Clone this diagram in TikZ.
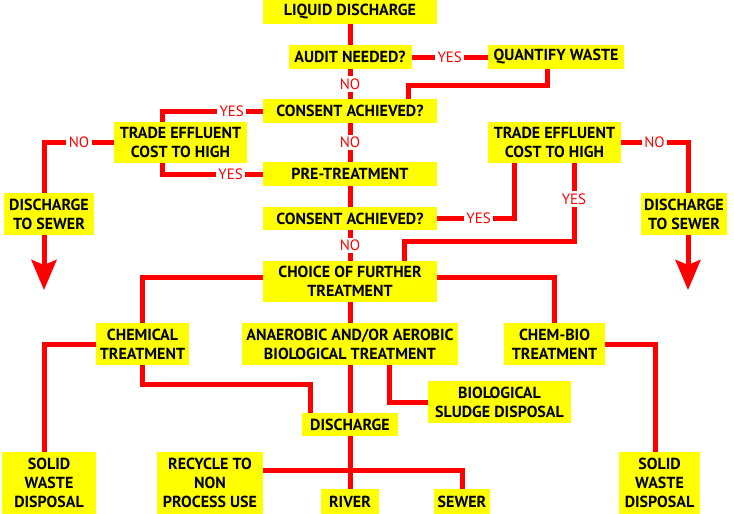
\documentclass[tikz,border=0pt]{standalone}
\usepackage{fontspec}
\setmainfont{PT Sans}
\usepackage{tikz}
\usetikzlibrary{arrows.meta, positioning}
\definecolor{boxyellow}{RGB}{255,255,0}
\definecolor{flowred}{RGB}{255,0,0}

\begin{document}
\begin{tikzpicture}[
    x=1pt, y=-1pt,
    every node/.style={font=\fontsize{15}{19}\selectfont},
    box/.style n args={2}{rectangle, fill=boxyellow, align=center, inner sep=0pt, outer sep=0pt,
                minimum width=#1pt, minimum height=#2pt, font=\fontsize{16}{19}\selectfont\bfseries},
    lbl/.style={fill=white, text=flowred, inner sep=2.5pt},
    arr/.style={draw=flowred, line width=5pt},
    tip/.style={-{Stealth[length=30pt, width=25pt, inset=5pt]}}
]
\useasboundingbox (0,0) rectangle (734,514);

\node[box={174}{24}] (liquid) at (350,12) {LIQUID DISCHARGE};
\node[box={123}{24}, below=21pt of liquid] (audit) {AUDIT NEEDED?};
\node[box={136}{24}] (quantify) at (556,57) {QUANTIFY WASTE};
\node[box={174}{24}, below=30pt of audit] (consent1) {CONSENT ACHIEVED?};
\node[box={133}{41}] (effluentl) at (180.5,142.5) {TRADE EFFLUENT\\COST TO HIGH};
\node[box={133}{41}] (effluentr) at (554.5,142.5) {TRADE EFFLUENT\\COST TO HIGH};
\node[box={174}{24}, below=39pt of consent1] (pretreat) {PRE-TREATMENT};
\node[box={174}{23}, below=21pt of pretreat] (consent2) {CONSENT ACHIEVED?};
\node[box={90}{42}] (sewerl) at (49,214) {DISCHARGE\\TO SEWER};
\node[box={86}{42}] (sewerr) at (684,214) {DISCHARGE\\TO SEWER};
\node[box={174}{41}, below=31pt of consent2] (choice) {CHOICE OF FURTHER\\TREATMENT};
\node[box={93}{42}] (chemical) at (142.5,344) {CHEMICAL\\TREATMENT};
\node[box={216}{42}, below=21pt of choice] (biotreat) {ANAEROBIC AND/OR AEROBIC\\BIOLOGICAL TREATMENT};
\node[box={101}{42}] (chembio) at (554.5,344) {CHEM-BIO\\TREATMENT};
\node[box={143}{42}] (sludge) at (499.5,402) {BIOLOGICAL\\SLUDGE DISPOSAL};
\node[box={96}{23}, below=48pt of biotreat] (discharge) {DISCHARGE};
\node[box={94}{62}] (solidl) at (49,483) {SOLID\\WASTE\\DISPOSAL};
\node[box={106}{62}] (recycle) at (210,483) {RECYCLE TO\\NON\\PROCESS USE};
\node[box={58}{25}, below=53pt of discharge] (river) {RIVER};
\node[box={56}{25}] (sewer) at (462,501.5) {SEWER};
\node[box={81}{62}] (solidr) at (659.5,483) {SOLID\\WASTE\\DISPOSAL};

\coordinate (split) at (350,470);
\coordinate (tipl) at (44,290);
\coordinate (tipr) at (688,290);

\draw[arr] (liquid) -- (audit);
\draw[arr] (audit) -- node[lbl]{NO} (consent1);
\draw[arr] (audit) -- node[lbl]{YES} (quantify);
\draw[arr] ([xshift=-9pt]quantify.south) -- ++(0,16) -| ([xshift=58pt]consent1.north);
\draw[arr] (consent1) -- node[lbl]{NO} (pretreat);
\draw[arr] (consent1.west) -| node[lbl, pos=0.155]{YES} ([xshift=-18.5pt]effluentl.north);
\draw[arr] ([xshift=-18.5pt]effluentl.south) |- node[lbl, pos=0.84]{YES} (pretreat.west);
\draw[arr] (effluentl.west) -| node[lbl, pos=0.25]{NO} ([xshift=-5pt]sewerl.north);
\draw[arr] (pretreat) -- (consent2);
\draw[arr] (consent2) -- node[lbl]{NO} (choice);
\draw[arr] (consent2.east) -| node[lbl, pos=0.27]{YES} ([xshift=-40.5pt]effluentr.south);
\draw[arr] (effluentr.east) -| node[lbl, pos=0.25]{NO} ([xshift=4pt]sewerr.north);
\draw[arr] ([xshift=19.5pt]effluentr.south) -- node[lbl, pos=0.46]{YES} ++(0,78) -| ([xshift=54pt]choice.north);
\draw[arr] ([yshift=4.5pt]choice.west) -| (chemical.north);
\draw[arr] ([yshift=4.5pt]choice.east) -| (chembio.north);
\draw[arr] (choice) -- (biotreat);
\draw[arr] (chemical.west) -| ([xshift=-5pt]solidl.north);
\draw[arr] (chemical.south) -- ++(0,19) -| ([xshift=-40pt]discharge.north);
\draw[arr] ([xshift=39pt]biotreat.south) |- (sludge.west);
\draw[arr] (biotreat) -- (discharge);
\draw[arr] (chembio.east) -| ([xshift=-4.5pt]solidr.north);
\draw[arr] (discharge) -- (river);
\draw[arr] (recycle.east |- split) -| (sewer.north);
\draw[arr, tip] ([xshift=-5pt]sewerl.south) -- (tipl);
\draw[arr, tip] ([xshift=4pt]sewerr.south) -- (tipr);
\end{tikzpicture}
\end{document}
